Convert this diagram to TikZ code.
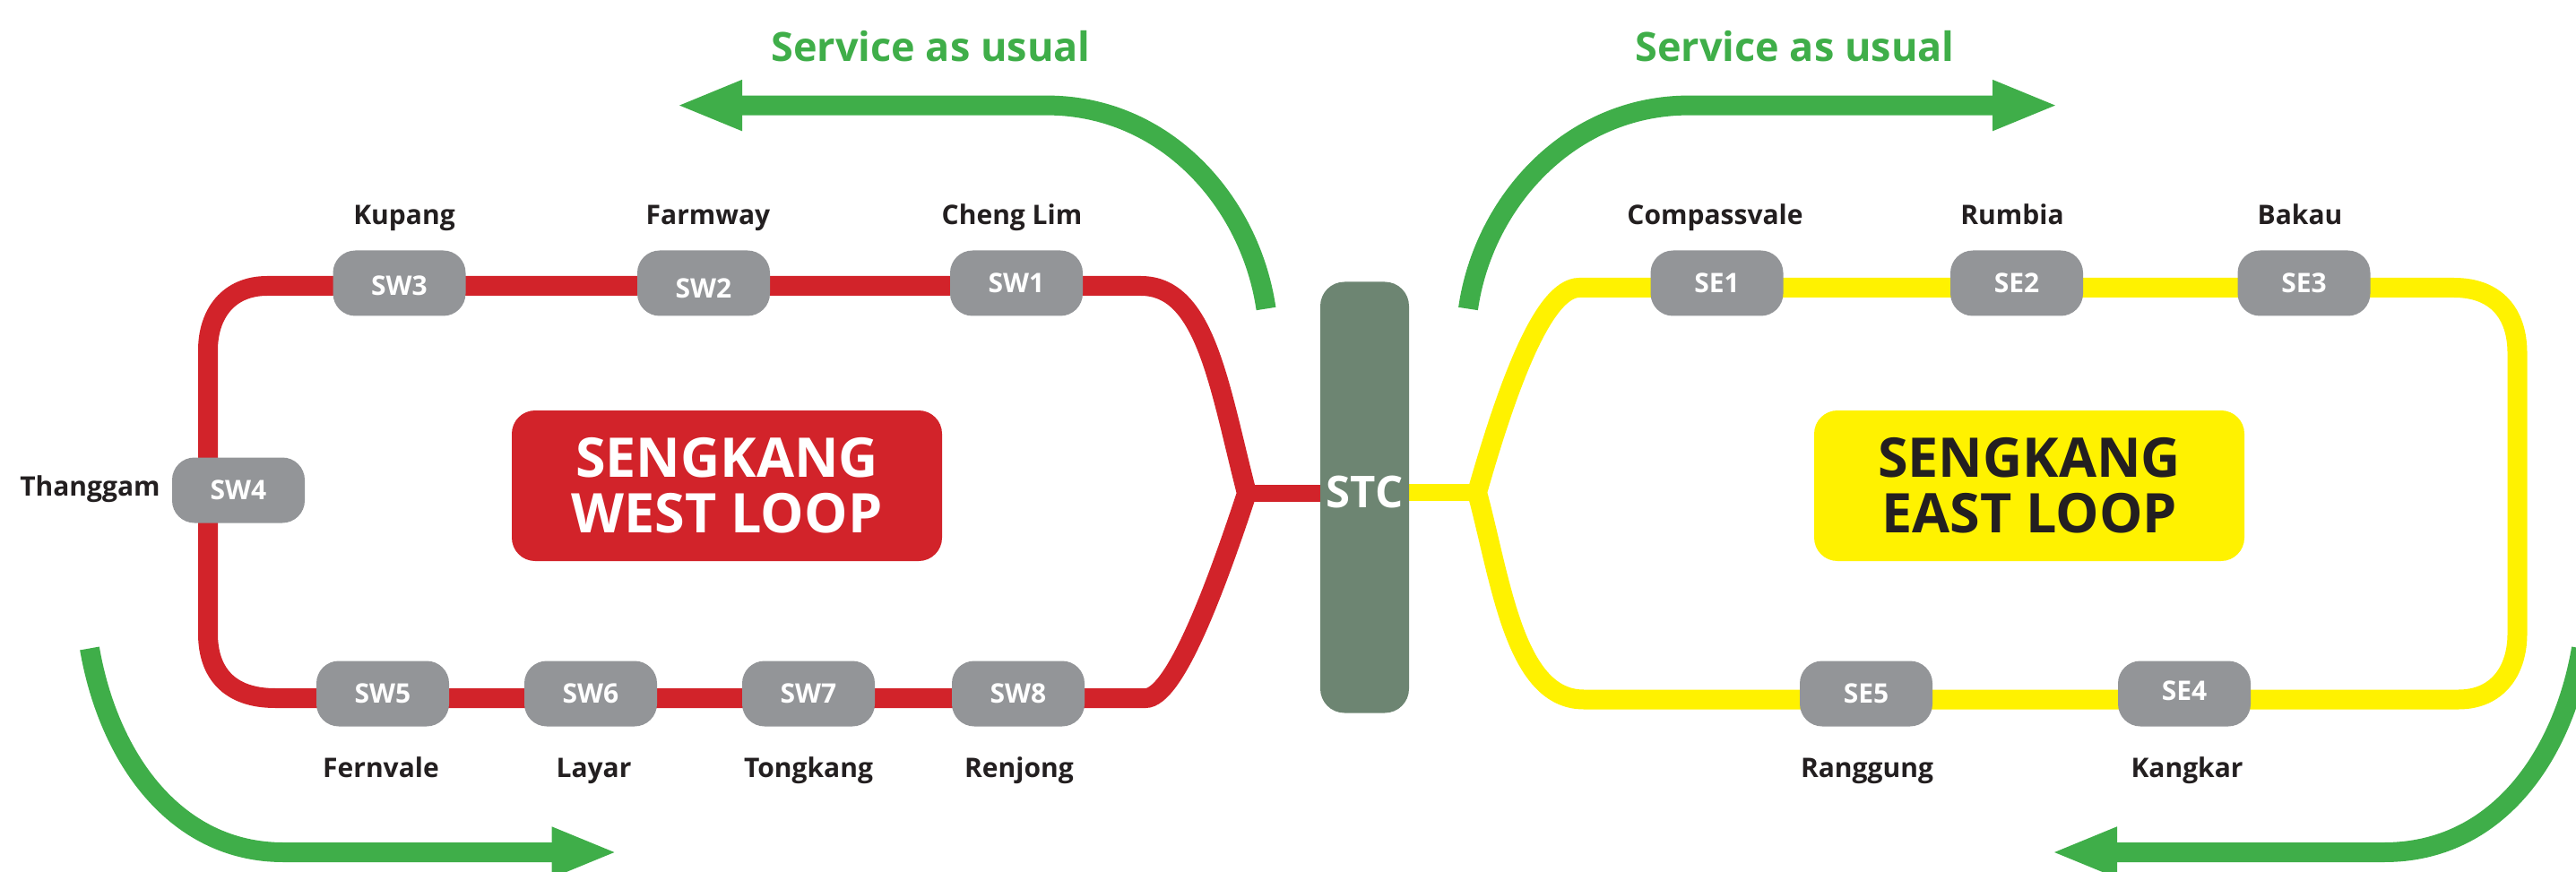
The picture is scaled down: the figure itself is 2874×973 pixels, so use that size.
\documentclass[tikz,border=0pt]{standalone}
\usepackage{fontspec}
\setmainfont{Open Sans}
\usetikzlibrary{arrows.meta,backgrounds}
\definecolor{lred}{HTML}{D2232A}
\definecolor{lyellow}{HTML}{FFF200}
\definecolor{lgrey}{HTML}{939598}
\definecolor{lgreen}{HTML}{3FAE49}
\definecolor{lstc}{HTML}{6D8572}
\definecolor{ltext}{HTML}{231F20}
\newcommand{\shifttext}[2]{\raisebox{#1}[\height][\depth]{#2}}
\tikzset{
  stationbox/.style={draw=none,fill=lgrey,rounded corners=25pt,minimum width=148pt,minimum height=73pt,inner sep=0pt,text=white,font=\fontsize{30}{32}\selectfont\bfseries},
  stationname/.style={anchor=base,inner sep=0pt,text=ltext,font=\fontsize{30}{33}\selectfont\bfseries},
  titlebox/.style={rounded corners=26pt,minimum width=480pt,minimum height=168pt,inner sep=0pt,align=center,font=\fontsize{61}{62}\selectfont\bfseries},
  serviceword/.style={anchor=base,inner sep=0pt,text=lgreen,font=\fontsize{45}{48}\selectfont\bfseries},
  redline/.style={draw=lred,line width=22pt,miter limit=10},
  yellowline/.style={draw=lyellow,line width=22pt,miter limit=10},
  greenarrow/.style={draw=lgreen,line width=22pt,-{Triangle[length=74pt,width=51pt]}},
}
\begin{document}
\begin{tikzpicture}[x=1pt,y=-1pt]
\useasboundingbox (0,0) rectangle (2874,973);
\clip (0,0) rectangle (2874,973);
% stations
\node[stationbox] (sw1) at (1134,316) {SW1};
\node[stationbox] (sw2) at (785,316) {\shifttext{-6pt}{SW2}};
\node[stationbox] (sw3) at (445.5,316) {\shifttext{-3pt}{SW3}};
\node[stationbox] (sw4) at (266,547) {SW4};
\node[stationbox] (sw5) at (427,774) {SW5};
\node[stationbox] (sw6) at (659,774) {SW6};
\node[stationbox] (sw7) at (902,774) {SW7};
\node[stationbox] (sw8) at (1136,774) {SW8};
\node[stationbox] (se1) at (1915.5,316) {SE1};
\node[stationbox] (se2) at (2250,316) {SE2};
\node[stationbox] (se3) at (2570.5,316) {SE3};
\node[stationbox] (se4) at (2437,774) {\shifttext{3pt}{SE4}};
\node[stationbox] (se5) at (2082,774) {SE5};
% interchange
\node[fill=lstc,rounded corners=27pt,minimum width=99pt,minimum height=481pt,inner sep=0pt] (stc) at (1522.5,555) {};
\node[inner sep=0pt,text=white,font=\fontsize{49}{52}\selectfont\bfseries] (stctext) at (1522.5,549) {STC};
% titles
\node[titlebox,fill=lred,text=white] (west) at (811,542) {SENGKANG\\WEST LOOP};
\node[titlebox,fill=lyellow,text=ltext] (east) at (2264,542) {SENGKANG\\EAST LOOP};
% names
\node[stationname] (n1) at (1129,251) {Cheng Lim};
\node[stationname] (n2) at (790,251) {Farmway};
\node[stationname] (n3) at (451,251) {Kupang};
\node[stationname] (n4) at (100.5,553) {Thanggam};
\node[stationname] (n5) at (425,867) {Fernvale};
\node[stationname] (n6) at (662.5,867) {Layar};
\node[stationname] (n7) at (902,867) {Tongkang};
\node[stationname] (n8) at (1137,867) {Renjong};
\node[stationname] (m1) at (1913.5,251) {Compassvale};
\node[stationname] (m2) at (2245,251) {Rumbia};
\node[stationname] (m3) at (2566,251) {Bakau};
\node[stationname] (m4) at (2440,867) {Kangkar};
\node[stationname] (m5) at (2083,867) {Ranggung};
\node[serviceword] (s1) at (1038.5,69) {Service as usual};
\node[serviceword] (s2) at (2002.5,69) {Service as usual};
% control coordinates
\coordinate (jw) at (1391,550.5);
\coordinate (rt) at (1273,319);
\coordinate (rb) at (1278,779);
\coordinate (ltl) at (298,319);
\coordinate (lvt) at (232,391);
\coordinate (lvb) at (232,707);
\coordinate (lbl) at (307,779);
\coordinate (je) at (1648,549.5);
\coordinate (yt) at (1762,321);
\coordinate (yb) at (1767,780.5);
\coordinate (ytr) at (2738,321);
\coordinate (yvt) at (2808.5,394);
\coordinate (yvb) at (2808.5,707);
\coordinate (ybr) at (2743,780.5);
\coordinate (g1a) at (1412.5,344.5);
\coordinate (g1b) at (1168,117.6);
\coordinate (g1c) at (754,117.6);
\coordinate (g2a) at (1638,344.5);
\coordinate (g2b) at (1884,117.6);
\coordinate (g2c) at (2297,117.6);
\coordinate (g3a) at (100,723.5);
\coordinate (g3b) at (316,951);
\coordinate (g3c) at (689.5,951);
\coordinate (g4a) at (2880,723.5);
\coordinate (g4b) at (2660,951);
\coordinate (g4c) at (2288,951);
\begin{scope}[on background layer]
\draw[redline] (lbl) -- (lbl -| sw5) -- (lbl -| sw6) -- (lbl -| sw7) -- (lbl -| sw8) -- (rb)
  .. controls (1310,779) and (1355,660) .. (jw)
  .. controls (1360,430) and (1345,319) .. (rt)
  -- (rt -| sw1) -- (rt -| sw2) -- (rt -| sw3) -- (ltl)
  .. controls (255,319) and (232,350) .. (lvt)
  -- (lvt |- sw4) -- (lvb)
  .. controls (232,750) and (255,779) .. (lbl) -- cycle;
\draw[lred,line width=19pt] (jw) -- (stc.center |- jw);
\draw[yellowline] (ybr) -- (ybr -| se4) -- (ybr -| se5) -- (yb)
  .. controls (1690,780.5) and (1675,650) .. (je)
  .. controls (1682,430) and (1722,321) .. (yt)
  -- (yt -| se1) -- (yt -| se2) -- (yt -| se3) -- (ytr)
  .. controls (2785,321) and (2808.5,350) .. (yvt)
  -- (yvb)
  .. controls (2808.5,750) and (2785,780.5) .. (ybr) -- cycle;
\draw[lyellow,line width=19pt] (je) -- (stc.center |- je);
\end{scope}
\draw[greenarrow] (g1a) .. controls (1395,225) and (1300,117.6) .. (g1b) -- (g1c);
\draw[greenarrow] (g2a) .. controls (1655,225) and (1752,117.6) .. (g2b) -- (g2c);
\draw[greenarrow] (g3a) .. controls (121,845) and (195,951) .. (g3b) -- (g3c);
\draw[greenarrow] (g4a) .. controls (2859,845) and (2785,951) .. (g4b) -- (g4c);
\end{tikzpicture}
\end{document}
